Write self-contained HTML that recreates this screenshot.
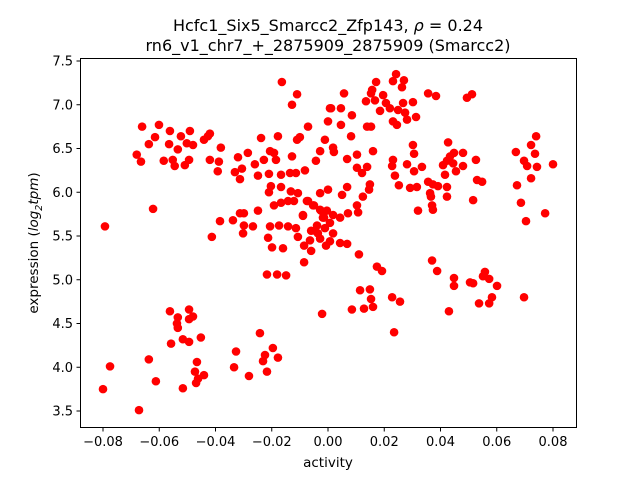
<!DOCTYPE html>
<html><head><meta charset="utf-8"><style>
body{margin:0;background:#fff;}
svg{display:block;font-family:"DejaVu Sans","Liberation Sans",sans-serif;}
</style></head><body>
<svg id="chart" width="640" height="480" viewBox="0 0 640 480">
<rect x="0" y="0" width="640" height="480" fill="#fff"/>
<text x="328" y="31" font-size="16" text-anchor="middle">Hcfc1_Six5_Smarcc2_Zfp143, <tspan font-style="italic">ρ</tspan> = 0.24</text>
<text x="328" y="51" font-size="16" text-anchor="middle">rn6_v1_chr7_+_2875909_2875909 (Smarcc2)</text>
<g id="points"></g>
<rect x="80.5" y="58.5" width="496" height="369" fill="none" stroke="#000" stroke-width="1"/>
<g id="xticks"></g>
<g id="yticks"></g>
<text x="328" y="467" font-size="13.5" text-anchor="middle">activity</text>
<text transform="translate(38,243) rotate(-90)" font-size="13.5" text-anchor="middle">expression (<tspan font-style="italic">log</tspan><tspan font-style="italic" font-size="9.5" dy="4">2</tspan><tspan font-style="italic" dy="-4">tpm</tspan>)</text>
</svg>
<script>
const xTicks=[-0.08,-0.06,-0.04,-0.02,0.00,0.02,0.04,0.06,0.08];
const xTickLabels=["−0.08","−0.06","−0.04","−0.02","0.00","0.02","0.04","0.06","0.08"];
const yTicks=[3.5,4.0,4.5,5.0,5.5,6.0,6.5,7.0,7.5];
const yTickLabels=["3.5","4.0","4.5","5.0","5.5","6.0","6.5","7.0","7.5"];
const activity=[-0.0661,-0.0601,-0.0615,-0.0637,-0.0562,-0.0565,-0.0534,-0.0523,-0.0491,-0.0502,-0.0480,-0.0680,-0.0665,-0.0584,-0.0552,-0.0545,-0.0509,-0.0494,-0.0441,-0.0427,-0.0420,-0.0381,-0.0420,-0.0388,-0.0392,-0.0320,-0.0285,-0.0306,-0.0331,-0.0313,-0.0260,-0.0249,-0.0238,-0.0178,-0.0164,-0.0110,-0.0128,-0.0071,-0.0100,-0.0110,-0.0011,-0.0028,-0.0043,0.0007,0.0000,-0.0228,-0.0206,-0.0192,-0.0185,-0.0210,-0.0167,-0.0135,-0.0114,-0.0082,-0.0128,-0.0622,-0.0793,-0.0203,-0.0167,-0.0210,-0.0132,-0.0107,-0.0028,0.0000,-0.0313,-0.0299,-0.0249,-0.0384,-0.0338,-0.0299,-0.0267,-0.0302,-0.0413,-0.0206,-0.0174,-0.0142,-0.0114,-0.0213,-0.0107,-0.0192,-0.0167,-0.0142,-0.0121,-0.0089,-0.0071,-0.0050,-0.0060,-0.0036,-0.0025,-0.0014,
0.0057,0.0011,0.0046,0.0085,0.0046,0.0082,0.0018,0.0021,0.0068,0.0103,0.0160,0.0103,0.0121,0.0139,0.0149,0.0146,0.0068,0.0124,0.0103,0.0107,0.0071,0.0050,-0.0075,-0.0053,-0.0028,-0.0004,0.0018,0.0043,-0.0018,0.0007,-0.0039,-0.0011,0.0018,-0.0046,-0.0028,-0.0064,0.0007,0.0043,0.0068,-0.0089,
0.0242,0.0270,0.0231,0.0263,0.0171,0.0157,0.0153,0.0196,0.0135,0.0167,0.0206,0.0267,0.0302,0.0185,0.0220,0.0249,0.0274,0.0281,0.0313,0.0231,0.0245,0.0139,0.0153,0.0356,0.0384,0.0494,0.0512,
0.0302,0.0306,0.0427,0.0231,0.0228,0.0281,0.0306,0.0334,0.0238,0.0252,0.0292,0.0316,0.0356,0.0373,0.0391,0.0423,0.0363,0.0366,0.0423,0.0370,0.0373,0.0320,0.0409,0.0423,0.0434,0.0448,0.0445,0.0455,0.0480,0.0480,0.0526,0.0416,0.0530,0.0548,0.0516,
0.0740,0.0722,0.0736,0.0668,0.0697,0.0708,0.0743,0.0800,0.0722,0.0672,0.0686,0.0772,0.0704,
-0.0199,-0.0160,-0.0217,-0.0181,-0.0149,-0.0085,-0.0060,-0.0085,-0.0021,-0.0007,-0.0562,-0.0534,-0.0494,-0.0480,-0.0494,-0.0537,-0.0534,-0.0558,-0.0516,-0.0494,-0.0452,-0.0637,-0.0775,-0.0800,-0.0672,-0.0612,-0.0516,-0.0466,-0.0473,-0.0441,-0.0462,-0.0469,-0.0242,-0.0327,-0.0334,-0.0281,-0.0224,-0.0231,-0.0196,-0.0178,-0.0217,
0.0110,0.0174,0.0192,0.0370,0.0388,0.0448,0.0448,0.0505,0.0516,0.0558,0.0551,0.0573,0.0601,0.0583,0.0573,0.0537,0.0430,0.0697,0.0114,0.0149,0.0153,0.0160,0.0128,0.0085,0.0228,0.0256,0.0235];
const expression=[6.75,6.77,6.63,6.55,6.70,6.55,6.49,6.64,6.70,6.56,6.54,6.43,6.35,6.36,6.37,6.30,6.31,6.37,6.60,6.64,6.67,6.51,6.37,6.35,6.24,6.40,6.45,6.27,6.23,6.15,6.32,6.19,6.62,6.64,7.26,7.12,7.00,6.75,6.63,6.60,6.60,6.47,6.36,6.96,6.81,6.37,6.47,6.45,6.37,6.21,6.20,6.22,6.22,6.25,6.41,5.81,5.61,6.07,6.06,6.00,6.01,5.99,5.99,6.03,5.76,5.76,5.79,5.67,5.68,5.62,5.61,5.53,5.49,5.61,5.62,5.61,5.59,5.48,5.49,5.85,5.88,5.90,5.90,5.73,5.90,5.85,5.56,5.53,5.79,5.71,
7.13,6.96,6.96,6.88,6.77,6.64,6.51,6.46,6.38,6.43,6.47,6.28,6.22,6.29,6.09,6.03,6.06,5.95,5.85,5.77,5.76,5.97,5.90,5.85,5.80,5.79,5.74,5.71,5.71,5.65,5.62,5.59,5.53,5.56,5.47,5.45,5.44,5.42,5.41,5.74,
7.35,7.28,7.27,7.20,7.26,7.17,7.13,7.11,7.04,7.05,7.02,7.02,7.03,6.93,6.96,6.94,6.91,6.83,6.86,6.81,6.77,6.75,6.75,7.13,7.10,7.08,7.12,
6.54,6.44,6.57,6.37,6.30,6.32,6.24,6.29,6.19,6.08,6.05,6.06,6.12,6.09,6.07,6.06,5.99,5.95,5.95,5.85,5.80,5.79,6.31,6.36,6.41,6.45,6.33,6.24,6.45,6.30,6.37,6.20,6.14,6.12,5.91,
6.64,6.54,6.44,6.46,6.36,6.30,6.29,6.32,6.16,6.08,5.88,5.76,5.67,
5.37,5.36,5.06,5.06,5.05,5.39,5.33,5.20,4.61,5.39,4.64,4.57,4.66,4.58,4.55,4.50,4.45,4.27,4.32,4.29,4.34,4.09,4.01,3.75,3.51,3.84,3.76,4.06,3.95,3.91,3.87,3.82,4.39,4.18,4.00,3.90,4.14,4.07,4.22,4.11,3.95,
5.29,5.15,5.10,5.22,5.10,5.02,4.93,4.97,4.96,5.09,5.04,5.01,4.93,4.80,4.73,4.73,4.64,4.80,4.88,4.89,4.78,4.69,4.67,4.66,4.80,4.75,4.40];

const NS="http://www.w3.org/2000/svg";
function xScale(v){return 328+v*2812.5;}
function yScale(v){return 61+(7.5-v)*87.5;}
const pts=document.getElementById('points');
for(let i=0;i<activity.length;i++){
  const c=document.createElementNS(NS,'circle');
  c.setAttribute('cx',xScale(activity[i]));
  c.setAttribute('cy',yScale(expression[i]));
  c.setAttribute('r',4.3);
  c.setAttribute('fill','#ff0000');
  
  
  pts.appendChild(c);
}
const xg=document.getElementById('xticks');
xTicks.forEach((t,i)=>{
  const x=xScale(t);
  const l=document.createElementNS(NS,'line');
  l.setAttribute('x1',x);l.setAttribute('x2',x);l.setAttribute('y1',427.5);l.setAttribute('y2',431.5);
  l.setAttribute('stroke','#000');
  
  
  xg.appendChild(l);
  const tx=document.createElementNS(NS,'text');
  tx.setAttribute('x',x);tx.setAttribute('y',446);tx.setAttribute('font-size','13');tx.setAttribute('text-anchor','middle');
  tx.textContent=xTickLabels[i];
  
  
  xg.appendChild(tx);
});
const yg=document.getElementById('yticks');
yTicks.forEach((t,i)=>{
  const y=yScale(t);
  const l=document.createElementNS(NS,'line');
  l.setAttribute('x1',76.5);l.setAttribute('x2',80.5);l.setAttribute('y1',y);l.setAttribute('y2',y);
  l.setAttribute('stroke','#000');
  
  
  yg.appendChild(l);
  const tx=document.createElementNS(NS,'text');
  tx.setAttribute('x',73);tx.setAttribute('y',y+4.5);tx.setAttribute('font-size','13');tx.setAttribute('text-anchor','end');
  tx.textContent=yTickLabels[i];
  
  
  yg.appendChild(tx);
});
</script>
</body></html>
